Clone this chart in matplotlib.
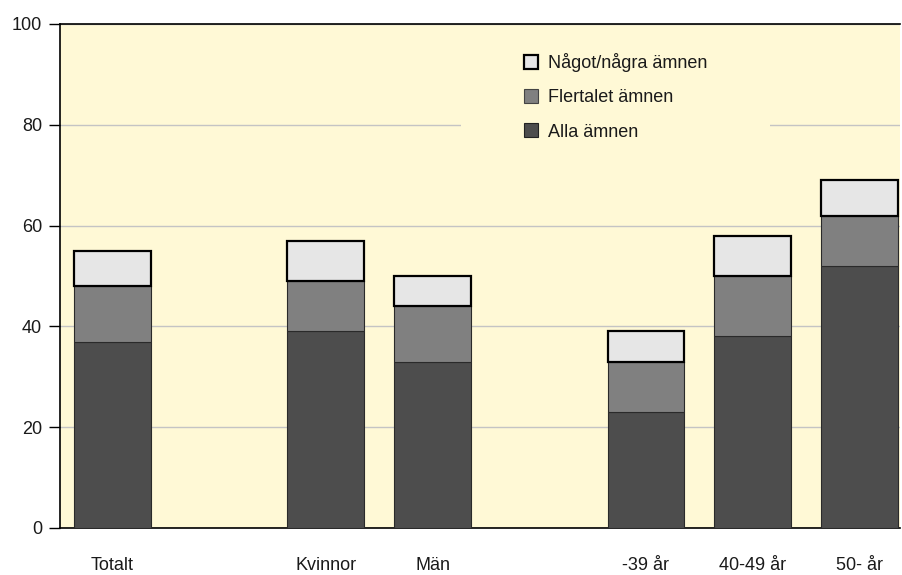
import numpy as np
import matplotlib
matplotlib.use('Agg')
import matplotlib.pyplot as plt
from matplotlib.patches import Patch, Rectangle

# --- Data ---
categories = ['Totalt', '', 'Kvinnor', 'Män', '', '-39 år', '40-49 år', '50- år']
alla       = [37, 0, 39, 33, 0, 23, 38, 52]
flertalet  = [11, 0, 10, 11, 0, 10, 12, 10]
nagot      = [7, 0, 8, 6, 0, 6, 8, 7]
series_labels = ['Något/några ämnen', 'Flertalet ämnen', 'Alla ämnen']

BG = '#FFF9D6'
C_ALLA = '#4D4D4D'
C_FLER = '#808080'
C_NAGOT = '#E6E6E6'
TXT = '#1a1a1a'
FS = 13

plt.rcParams['font.family'] = ['Liberation Sans Narrow', 'Liberation Sans', 'DejaVu Sans']

fig = plt.figure(figsize=(9.02, 5.75), dpi=100)
fig.patch.set_facecolor('white')
ax = fig.add_axes([60 / 902, 47 / 575, 840 / 902, 504 / 575])
ax.set_facecolor(BG)

x = np.arange(len(categories))
mask = np.array(alla) + np.array(flertalet) + np.array(nagot) > 0
xs = x[mask]
a = np.array(alla)[mask]
f = np.array(flertalet)[mask]
n = np.array(nagot)[mask]
w = 0.72

ax.bar(xs, a, width=w, color=C_ALLA, edgecolor='#2a2a2a', linewidth=0.8, zorder=3)
ax.bar(xs, f, width=w, bottom=a, color=C_FLER, edgecolor='#2a2a2a', linewidth=0.8, zorder=3)
ax.bar(xs, n, width=w, bottom=a + f, color=C_NAGOT, edgecolor='black', linewidth=1.6, zorder=4)

ax.set_ylim(0, 100)
ax.set_xlim(-0.49, 7.38)
ax.set_yticks([0, 20, 40, 60, 80, 100])
ax.yaxis.grid(True, color='#C4C4C4', linewidth=1.0, zorder=0)
ax.set_axisbelow(True)

ax.set_xticks(xs)
ax.set_xticklabels([c for c, m in zip(categories, mask) if m])
ax.tick_params(axis='x', length=0, pad=21, labelsize=FS, labelcolor=TXT)
ax.tick_params(axis='y', length=8, width=1, direction='out', pad=5, labelsize=FS,
               labelcolor=TXT, color='black')

ax.spines['right'].set_visible(False)
for s in ['left', 'top', 'bottom']:
    ax.spines[s].set_color('black')
    ax.spines[s].set_linewidth(1.2)

# legend area background (hides the gridline behind the legend)
ax.add_patch(Rectangle((461 / 902, (575 - 150) / 575), 309 / 902, 100 / 575,
                       transform=fig.transFigure, facecolor=BG, edgecolor='none', zorder=1))

handles = [
    Patch(facecolor=C_NAGOT, edgecolor='black', linewidth=1.6),
    Patch(facecolor=C_FLER, edgecolor='#444444', linewidth=0.8),
    Patch(facecolor=C_ALLA, edgecolor='#222222', linewidth=0.8),
]
leg = ax.legend(handles, series_labels, loc='upper left',
                bbox_to_anchor=(524 / 902, (575 - 53) / 575), bbox_transform=fig.transFigure,
                fontsize=FS, frameon=False,
                handlelength=0.8, handleheight=0.8, handletextpad=0.55,
                labelspacing=0.95, borderpad=0, borderaxespad=0)
leg.set_zorder(5)
for t in leg.get_texts():
    t.set_color(TXT)

plt.savefig('out.png', dpi=100, facecolor='white')
